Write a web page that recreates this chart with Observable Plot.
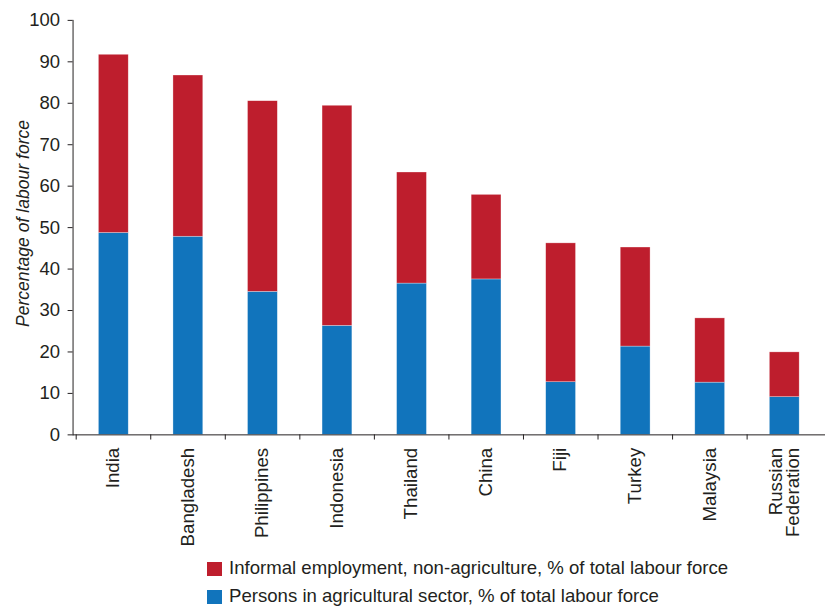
<!DOCTYPE html>
<html>
<head>
<meta charset="utf-8">
<script src="https://cdn.jsdelivr.net/npm/d3@7"></script>
<script src="https://cdn.jsdelivr.net/npm/@observablehq/plot@0.6"></script>
<style>
  html, body { margin: 0; padding: 0; background: #fff; overflow: hidden; }
  body { position: relative; width: 826px; height: 607px; font-family: "Liberation Sans", Arial, sans-serif; color: #231f20; }
  #chart { position: absolute; left: 0; top: 0; }
  .leg { position: absolute; left: 207px; font-size: 18.6px; line-height: 20px; white-space: nowrap; }
  .sw { position: absolute; left: 0; width: 15px; height: 14px; }
  .lt { position: absolute; left: 22px; top: 0; }
</style>
</head>
<body>
<div id="chart"></div>
<div id="legend"></div>
<script>
const countries = ["India", "Bangladesh", "Philippines", "Indonesia", "Thailand", "China", "Fiji", "Turkey", "Malaysia", "Russian\nFederation"];
const agriculture = [48.7, 47.8, 34.5, 26.3, 36.5, 37.5, 12.7, 21.3, 12.6, 9.1];
const informal = [43.0, 38.9, 46.0, 53.1, 26.8, 20.4, 33.5, 23.9, 15.5, 10.8];
const seriesNames = ["Informal employment, non-agriculture, % of total labour force", "Persons in agricultural sector, % of total labour force"];
const seriesColors = ["#be1e2d", "#1174bc"];
const yTicks = [0, 10, 20, 30, 40, 50, 60, 70, 80, 90, 100];
const yLabel = "Percentage of labour force";

const rows = [];
countries.forEach((c, i) => {
  rows.push({country: c, series: seriesNames[1], value: agriculture[i]});
  rows.push({country: c, series: seriesNames[0], value: informal[i]});
});

const W = 831, H = 552, ML = 73, MR = 1, MT = 20, MB = 115;
const step = (W - ML - MR) / countries.length;
const font = "'Liberation Sans', Arial, sans-serif";

const chart = Plot.plot({
  width: W, height: H,
  marginLeft: ML, marginRight: MR, marginTop: MT, marginBottom: MB,
  style: {fontFamily: font, fontSize: "18.6px", color: "#231f20", background: "transparent", overflow: "visible"},
  x: {domain: countries, paddingInner: 0.6, paddingOuter: 0.3, axis: null},
  y: {domain: [0, 100], ticks: yTicks, tickSize: 5, tickPadding: 8, line: true, label: null},
  color: {domain: seriesNames, range: seriesColors},
  marks: [
    Plot.barY(rows, Plot.stackY({
      x: "country", y: "value", fill: "series",
      order: [seriesNames[1], seriesNames[0]],
      stroke: "white", strokeWidth: 0.6, strokeOpacity: 0.5
    })),
    Plot.ruleY([0], {stroke: "#231f20", strokeWidth: 1}),
    Plot.ruleX(countries, {x: d => d, y1: 0, y2: -1.25, dx: -step / 2, stroke: "#231f20", strokeWidth: 1}),
    Plot.text(countries, {x: d => d, y: 0, text: d => d, rotate: -90, textAnchor: "end", lineAnchor: "middle", dy: 13, fontSize: 18.8, fill: "#231f20", lineHeight: 0.9}),
    Plot.text([{t: yLabel, v: 51}], {text: "t", y: "v", frameAnchor: "left", dx: -50, rotate: -90, textAnchor: "middle", lineAnchor: "middle", fontStyle: "italic", fontSize: 17.7, fill: "#231f20"})
  ]
});
document.getElementById("chart").appendChild(chart);

const legend = document.getElementById("legend");
const legTops = [558, 586];
seriesNames.forEach((name, i) => {
  const row = document.createElement("div");
  row.className = "leg";
  row.style.top = legTops[i] + "px";
  const sw = document.createElement("span");
  sw.className = "sw";
  sw.style.background = seriesColors[i];
  sw.style.top = "4px";
  const t = document.createElement("span");
  t.className = "lt";
  t.textContent = name;
  row.appendChild(sw);
  row.appendChild(t);
  legend.appendChild(row);
});
</script>
</body>
</html>
